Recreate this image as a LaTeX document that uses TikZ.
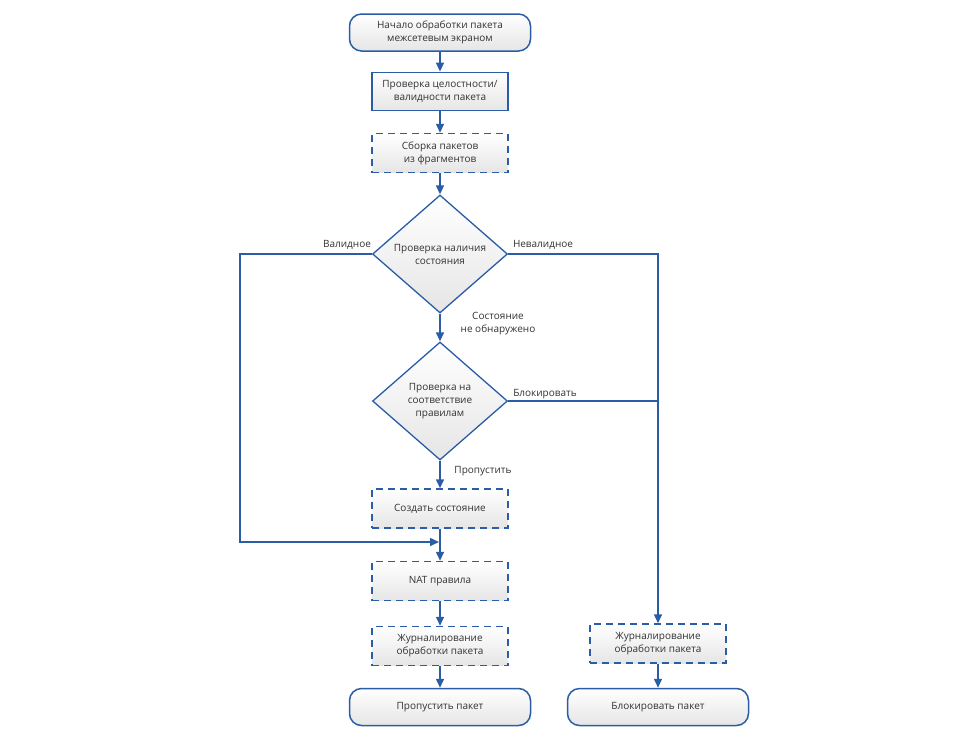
\documentclass[tikz,border=0pt]{standalone}
\usepackage{fontspec}
\setmainfont{Open Sans}
\usetikzlibrary{shapes.geometric,arrows.meta}
\definecolor{lineblue}{HTML}{2B5CA6}
\definecolor{txtgray}{HTML}{333333}
\tikzset{
  base/.style={draw=lineblue, text=txtgray, top color=white, bottom color=black!10,
    align=center, font=\fontsize{10}{13}\selectfont, inner sep=0pt},
  termbox/.style={base, line width=1.5pt, rounded corners=12pt, minimum width=181pt, minimum height=37pt},
  solidbox/.style={base, line width=1.8pt, minimum width=136pt, minimum height=38pt},
  dashbox/.style={base, line width=1.5pt, dash pattern=on 7pt off 5pt, minimum width=136pt, minimum height=39pt},
  decision/.style={base, diamond, aspect=1.15, line width=1.3pt, minimum width=135pt, minimum height=118pt},
  arr/.style={draw=lineblue, line width=1.5pt, -{Triangle[length=9pt,width=8pt]}},
  conn/.style={draw=lineblue, line width=1.5pt},
  lbl/.style={text=txtgray, font=\fontsize{10}{13}\selectfont, align=center, inner sep=0pt}
}
\begin{document}
\begin{tikzpicture}[x=1pt,y=-1pt]
\useasboundingbox (0,0) rectangle (970,740);
\node[termbox] (start) at (440,32.5) {Начало обработки пакета\\межсетевым экраном};
\node[solidbox] (check) at (440,91.5) {Проверка целостности/\\валидности пакета};
\node[dashbox] (asm) at (440,153) {Сборка пакетов\\из фрагментов};
\node[decision] (d1) at (440,254) {Проверка наличия\\состояния};
\node[decision] (d2) at (440,401) {Проверка на\\соответствие\\правилам};
\node[dashbox] (create) at (440,508.5) {Создать состояние};
\node[dashbox] (nat) at (440,581) {NAT правила};
\node[dashbox] (log1) at (440,646) {Журналирование\\обработки пакета};
\node[termbox] (pass) at (440,707) {Пропустить пакет};
\node[dashbox] (log2) at (658,643.5) {Журналирование\\обработки пакета};
\node[termbox] (block) at (658,707) {Блокировать пакет};
\coordinate (join) at (439,542);
\coordinate (lcorner) at (240,254);

\draw[arr] (start) -- (check);
\draw[arr] (check) -- (asm);
\draw[arr] (asm) -- (d1);
\draw[arr] (d1) -- (d2);
\draw[arr] (d2) -- (create);
\draw[arr] (create) -- (nat);
\draw[arr] (nat) -- (log1);
\draw[arr] (log1) -- (pass);
\draw[arr] (log2) -- (block);
\draw[arr] (d1.west) -- (lcorner) |- (join);
\draw[arr] (d1.east) -| (log2.north);
\draw[conn] (d2.east) -- (log2.north |- d2.east);

\node[lbl] (lval) at (347,244.5) {Валидное};
\node[lbl] (linv) at (543,244.5) {Невалидное};
\node[lbl] (lnf) at (498,323.5) {Состояние\\не обнаружено};
\node[lbl] (lblk) at (545,394.5) {Блокировать};
\node[lbl] (lpass) at (483,471.5) {Пропустить};
\end{tikzpicture}
\end{document}
